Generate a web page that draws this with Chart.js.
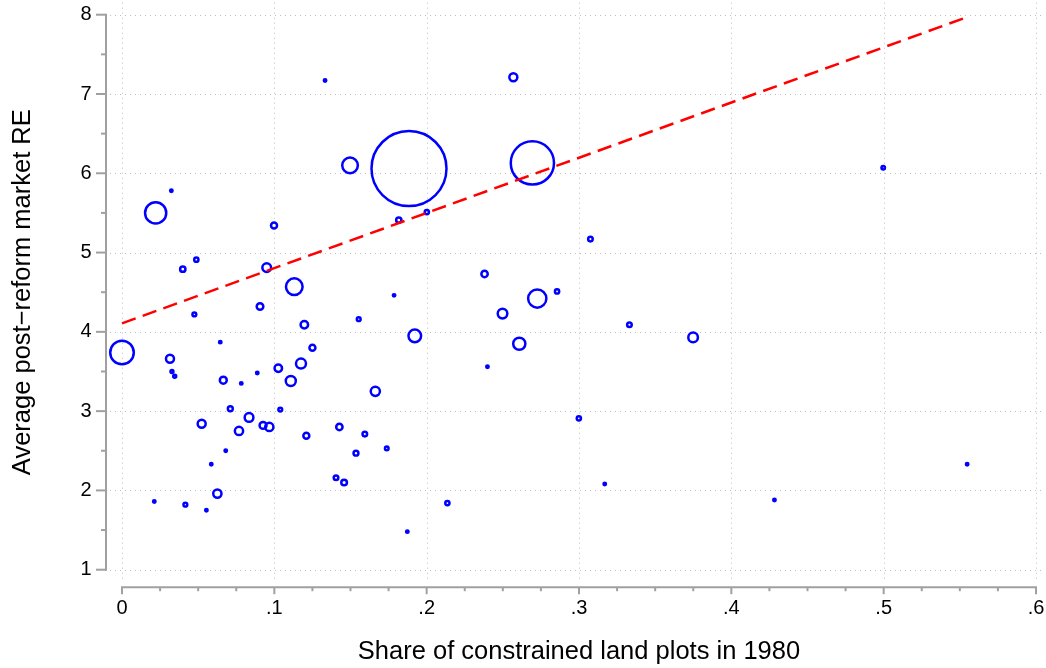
<!DOCTYPE html>
<html>
<head>
<meta charset="utf-8">
<script src="https://cdn.jsdelivr.net/npm/chart.js@4.4.0/dist/chart.umd.min.js"></script>
<style>
  html, body { margin: 0; padding: 0; background: #fff; }
  #wrap { width: 1046px; height: 668px; }
</style>
</head>
<body>
<div id="wrap"><canvas id="c" width="1046" height="668"></canvas></div>
<script>
// ---- data ----
const shareConstrained = [
  0.000, 0.0221, 0.0324, 0.0399, 0.0488, 0.0998, 0.0950, 0.1131, 0.1497, 0.0475,
  0.0906, 0.1197, 0.0315, 0.0645, 0.0328, 0.0346, 0.0665, 0.0783, 0.0888, 0.1026,
  0.1175, 0.1108, 0.1250, 0.0212, 0.0416, 0.0554, 0.0626, 0.0586, 0.0681, 0.0523,
  0.0711, 0.0768, 0.0834, 0.0926, 0.0967, 0.1039, 0.1210, 0.1427, 0.1405, 0.1458,
  0.1594, 0.1536, 0.1738, 0.1873, 0.2136, 0.1663, 0.1333, 0.2569, 0.1884, 0.2694,
  0.1817, 0.2001, 0.3075, 0.2380, 0.2856, 0.2726, 0.2498, 0.1786, 0.1554, 0.1922,
  0.2608, 0.3331, 0.3749, 0.2399, 0.2999, 0.3169, 0.4283, 0.4997, 0.5548
];
const avgMarketRE = [
  3.74, 5.50, 5.78, 4.79, 4.91, 5.34, 4.81, 4.57, 6.10, 4.22,
  4.32, 4.09, 3.66, 3.87, 3.50, 3.44, 3.39, 3.35, 3.48, 3.54,
  3.60, 3.38, 3.80, 1.86, 1.82, 1.75, 1.96, 2.33, 2.50, 2.84,
  3.03, 2.75, 2.92, 2.82, 2.80, 3.02, 2.69, 2.80, 2.16, 2.10,
  2.71, 2.47, 2.53, 1.48, 1.84, 3.25, 7.17, 7.21, 6.06, 6.13,
  5.41, 5.51, 5.17, 4.73, 4.51, 4.42, 4.23, 4.46, 4.16, 3.95,
  3.85, 4.09, 3.93, 3.56, 2.91, 2.08, 1.88, 6.07, 2.33
];
// relative weights (marker area is proportional to weight)
const weights = [
  139, 112, 1.5, 7, 4.5, 9, 19, 69, 61, 3.6,
  11, 14, 16, 1.5, 2.2, 2.2, 12, 1.5, 1.5, 14,
  25, 25, 9, 1.5, 3.6, 1.5, 17, 1.5, 1.5, 16,
  6, 17, 19, 12, 17, 3.6, 9, 10, 5.3, 8,
  5.3, 6, 3.2, 1.5, 4.5, 21, 1.5, 16, 1406, 467,
  7, 4.5, 5.3, 10, 4.5, 83, 23, 1.5, 3.6, 40,
  37, 5.3, 23, 1.5, 4.5, 1.5, 1.5, 3, 1.5
];
// fitted line endpoints
const fitX = [0, 0.5548];
const fitY = [4.107, 7.97];

const xTickValues = [0, 0.1, 0.2, 0.3, 0.4, 0.5, 0.6];
const xTickLabels = ['0', '.1', '.2', '.3', '.4', '.5', '.6'];
const yTickValues = [1, 2, 3, 4, 5, 6, 7, 8];
const yTickLabels = ['1', '2', '3', '4', '5', '6', '7', '8'];
const xMinorStep = 0.025;
const yMinorStep = 0.5;
const xTitle = 'Share of constrained land plots in 1980';
const yTitle = 'Average post\u2212reform market RE';

// ---- chart ----
const FONT = '"Liberation Sans", Arial, Helvetica, sans-serif';
const AXIS_COLOR = '#a0a0a0';

const stataAxes = {
  id: 'stataAxes',
  beforeDatasetsDraw(chart) {
    const { ctx, chartArea: a, scales: { x, y } } = chart;
    ctx.save();
    // dotted grid
    ctx.strokeStyle = '#bdbdbd';
    ctx.lineWidth = 1;
    ctx.setLineDash([1, 4]);
    xTickValues.forEach(v => {
      const px = Math.round(x.getPixelForValue(v)) + 0.5;
      ctx.beginPath(); ctx.moveTo(px, a.top - 12); ctx.lineTo(px, a.bottom + 10); ctx.stroke();
    });
    yTickValues.forEach(v => {
      const py = Math.round(y.getPixelForValue(v)) + 0.5;
      ctx.beginPath(); ctx.moveTo(a.left - 12, py); ctx.lineTo(a.right + 6, py); ctx.stroke();
    });
    ctx.setLineDash([]);
    // axes
    ctx.strokeStyle = AXIS_COLOR;
    ctx.lineWidth = 2;
    const ax = a.left - 16;
    const ay = a.bottom + 17.5;
    const yTop = y.getPixelForValue(yTickValues[yTickValues.length - 1]);
    const yBot = y.getPixelForValue(yTickValues[0]);
    ctx.beginPath(); ctx.moveTo(ax, yTop - 1); ctx.lineTo(ax, yBot + 1); ctx.stroke();
    const xL = x.getPixelForValue(xTickValues[0]);
    const xR = x.getPixelForValue(xTickValues[xTickValues.length - 1]);
    ctx.beginPath(); ctx.moveTo(xL - 1, ay); ctx.lineTo(xR + 1, ay); ctx.stroke();
    // y ticks
    const y0 = yTickValues[0], y1 = yTickValues[yTickValues.length - 1];
    const nY = Math.round((y1 - y0) / yMinorStep);
    for (let i = 0; i <= nY; i++) {
      const v = y0 + i * yMinorStep;
      const major = Math.abs(v - Math.round(v)) < 1e-9;
      const py = y.getPixelForValue(v);
      ctx.beginPath(); ctx.moveTo(ax, py); ctx.lineTo(ax - (major ? 10 : 5), py); ctx.stroke();
    }
    // x ticks
    const x0 = xTickValues[0], x1 = xTickValues[xTickValues.length - 1];
    const nX = Math.round((x1 - x0) / xMinorStep);
    for (let i = 0; i <= nX; i++) {
      const major = i % 4 === 0;
      const px = x.getPixelForValue(x0 + i * xMinorStep);
      ctx.beginPath(); ctx.moveTo(px, ay); ctx.lineTo(px, ay + (major ? 7 : 4)); ctx.stroke();
    }
    ctx.restore();
  }
};

const points = shareConstrained.map((v, i) => ({ x: v, y: avgMarketRE[i] }));
const fitPoints = fitX.map((v, i) => ({ x: v, y: fitY[i] }));

// hidden grid: only used to reserve the label offset (tick length)
const hiddenGrid = len => ({
  display: true, drawOnChartArea: false, drawTicks: true,
  tickLength: len, tickColor: 'rgba(0,0,0,0)', color: 'rgba(0,0,0,0)'
});

new Chart(document.getElementById('c'), {
  type: 'scatter',
  data: {
    datasets: [
      {
        type: 'line',
        data: fitPoints,
        borderColor: '#ff0000',
        borderWidth: 2.5,
        borderDash: [14.5, 7.5],
        pointRadius: 0,
        fill: false,
        showLine: true,
        order: 0,
        clip: false
      },
      {
        data: points,
        showLine: false,
        pointRadius: ctx => Math.sqrt(weights[ctx.dataIndex]),
        pointBorderWidth: 2.5,
        pointBorderColor: '#0000ff',
        pointBackgroundColor: 'rgba(0,0,0,0)',
        order: 1,
        clip: false
      }
    ]
  },
  options: {
    responsive: false,
    animation: false,
    devicePixelRatio: 1,
    events: [],
    layout: { autoPadding: false, padding: { top: 14.7, right: 10, bottom: 0, left: 0 } },
    plugins: { legend: { display: false }, tooltip: { enabled: false }, title: { display: false } },
    scales: {
      x: {
        type: 'linear',
        min: xTickValues[0],
        max: xTickValues[xTickValues.length - 1],
        afterBuildTicks: s => { s.ticks = xTickValues.map(v => ({ value: v })); },
        afterFit: s => { s.height = 98.3; },
        grid: hiddenGrid(26.5),
        border: { display: false },
        ticks: {
          autoSkip: false, maxRotation: 0, minRotation: 0,
          padding: 0, color: '#000',
          font: { family: FONT, size: 20 },
          callback: (v, i) => xTickLabels[i]
        },
        title: {
          display: true, text: xTitle, color: '#000',
          font: { family: FONT, size: 25.5 },
          padding: { top: 0, bottom: 1 }
        }
      },
      y: {
        type: 'linear',
        min: yTickValues[0],
        max: yTickValues[yTickValues.length - 1],
        afterBuildTicks: s => { s.ticks = yTickValues.map(v => ({ value: v })); },
        afterFit: s => { s.width = 122; },
        grid: hiddenGrid(30.5),
        border: { display: false },
        ticks: {
          autoSkip: false,
          padding: 0, color: '#000',
          font: { family: FONT, size: 20 },
          callback: (v, i) => yTickLabels[i]
        },
        title: {
          display: true, text: yTitle, color: '#000',
          font: { family: FONT, size: 25.5 },
          padding: { top: 8, bottom: 0 }
        }
      }
    }
  },
  plugins: [stataAxes]
});
</script>
</body>
</html>
